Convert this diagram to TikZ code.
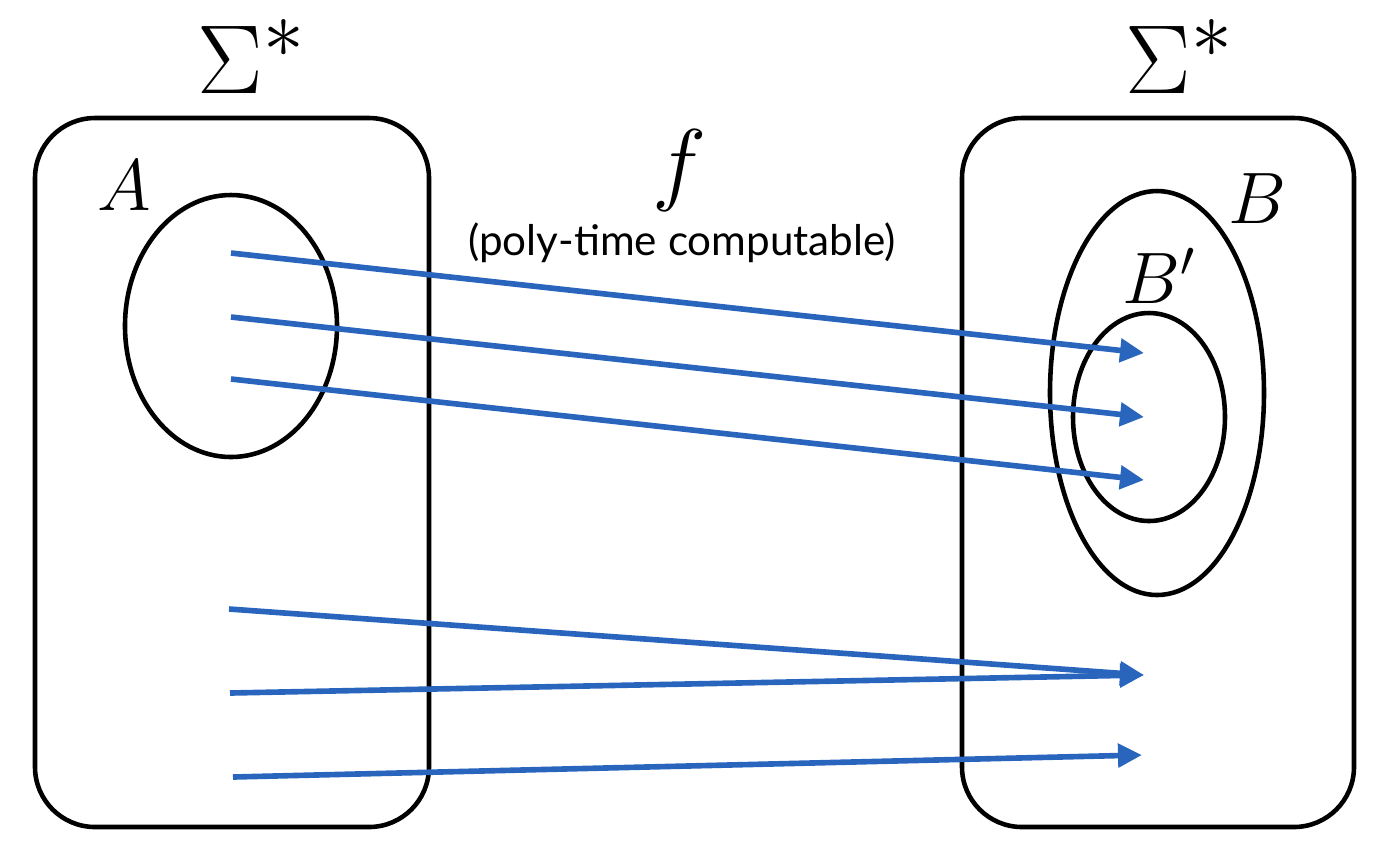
\documentclass[tikz,border=0pt]{standalone}
\usepackage{fontspec}
\newfontfamily\labelfont{Lato}
\usetikzlibrary{arrows.meta}
\definecolor{mapblue}{RGB}{41,101,189}
\tikzset{
  setbox/.style={line width=1.3pt,rounded corners=0.6cm},
  setline/.style={line width=1.3pt},
  setlabel/.style={anchor=base,inner sep=0pt},
  maparrow/.style={mapblue,line width=1.6pt,-{Triangle[length=0.24cm,width=0.23cm]}},
}
\begin{document}
\begin{tikzpicture}[x=0.01cm,y=-0.01cm]
    \useasboundingbox (0,0) rectangle (1390,850);
    % the two copies of Sigma^*
    \draw[setbox] (35,118) rectangle (429,827);
    \draw[setbox] (962,118) rectangle (1354,827);
    \node[setlabel,scale=1.12,font=\fontsize{24.88}{30}\selectfont] (sigL) at (252,93) {$\Sigma^*$};
    \node[setlabel,scale=1.12,font=\fontsize{24.88}{30}\selectfont] (sigR) at (1180,93) {$\Sigma^*$};
    % the sets
    \draw[setline] (231,326) ellipse [x radius=106,y radius=131];
    \draw[setline] (1157,393) ellipse [x radius=107,y radius=202];
    \draw[setline] (1149,417) ellipse [x radius=76,y radius=104];
    \node[setlabel,font=\fontsize{20.74}{24}\selectfont] (setA) at (124,210) {$A$};
    \node[setlabel,font=\fontsize{20.74}{24}\selectfont] (setB) at (1257,223) {$B$};
    \node[setlabel,font=\fontsize{20.74}{24}\selectfont] (setBp) at (1159,303) {$B'$};
    % the reduction
    \node[setlabel,scale=1.05,font=\fontsize{24.88}{30}\selectfont] (fmap) at (680,193) {$f$};
    \node[setlabel,font=\labelfont\fontsize{12}{14}\selectfont] (fnote) at (682,255) {(poly-time computable)};
    \coordinate (a1) at (231,253); \coordinate (b1) at (1144,353);
    \coordinate (a2) at (231,317); \coordinate (b2) at (1144,417);
    \coordinate (a3) at (231,379); \coordinate (b3) at (1144,480);
    \coordinate (a4) at (229,609); \coordinate (b4) at (1144,675);
    \coordinate (a5) at (230,693);
    \coordinate (a6) at (233,777); \coordinate (b6) at (1142,755);
    \draw[maparrow] (a1) -- (b1);
    \draw[maparrow] (a2) -- (b2);
    \draw[maparrow] (a3) -- (b3);
    \draw[maparrow] (a4) -- (b4);
    \draw[maparrow] (a5) -- (b4);
    \draw[maparrow] (a6) -- (b6);
\end{tikzpicture}
\end{document}
